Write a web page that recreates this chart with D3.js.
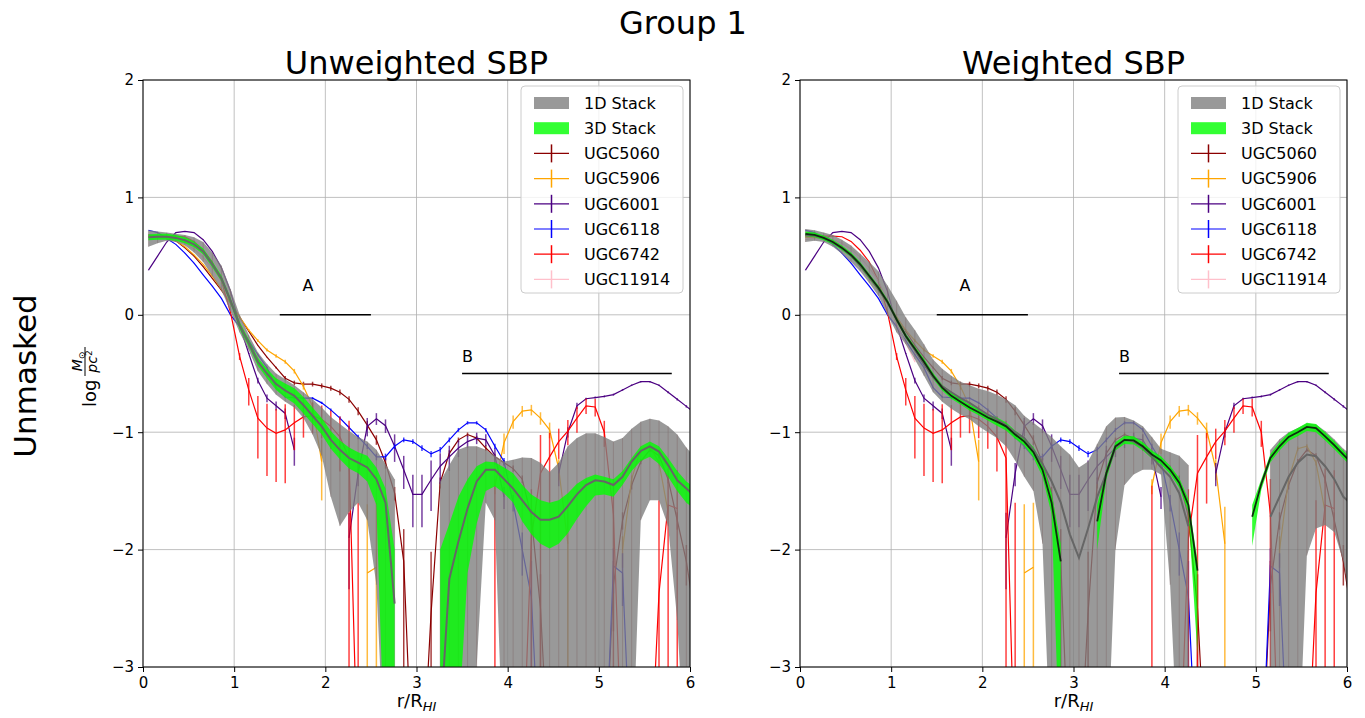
<!DOCTYPE html>
<html>
<head>
<meta charset="utf-8">
<script src="https://cdn.jsdelivr.net/npm/d3@7"></script>
<style>
  body { margin: 0; background: #fff; }
  text { font-family: "DejaVu Sans", sans-serif; }
</style>
</head>
<body>
<div id="canvas"></div>
<script>
"use strict";

const n = null;

// sampling radii r/R_HI (every 0.1 starting at 0.06)
const radii = d3.range(61).map(k => +(0.06 + 0.1 * k).toFixed(2));

// ---- galaxies: log surface density and linear 1-sigma errors ----
const galaxyNames = ["UGC5060", "UGC5906", "UGC6001", "UGC6118", "UGC6742", "UGC11914"];
const galaxyColors = ["darkred", "orange", "indigo", "blue", "red", "pink"];

const ugc5060 = [
  0.68, 0.67, 0.66, 0.63, 0.57, 0.50, 0.41, 0.31, 0.21, 0.10,
  -0.02, -0.14, -0.26, -0.36, -0.45, -0.54, -0.58, -0.59, -0.59, -0.605,
  -0.625, -0.66, -0.72, -0.82, -0.94, -1.065, -1.26, -1.52, -2.1, -4,
  -4, -2.54, -1.43, -1.18, -1.065, -1.02, -1.05, -1.135, -1.21, -1.26,
  -1.31, -1.4, -1.72, -2.5, -4, n, n, n, n, n,
  -4, -2.3, -1.75, -1.45, -1.25, -1.15, -1.2, -1.4, -1.75, -2.1,
  -2.6];
const ugc5060Err = [
  0.003, 0.003, 0.003, 0.003, 0.003, 0.003, 0.003, 0.003, 0.003, 0.003,
  0.003, 0.003, 0.003, 0.003, 0.006, 0.012, 0.012, 0.012, 0.012, 0.012,
  0.012, 0.012, 0.012, 0.012, 0.01, 0.008, 0.006, 0.004, 0.007, 0,
  0, 0.0067, 0.004, 0.004, 0.004, 0.004, 0.004, 0.004, 0.004, 0.003,
  0.003, 0.003, 0.003, 0.003, 0, 0, 0, 0, 0, 0,
  0, 0.003, 0.003, 0.003, 0.003, 0.003, 0.003, 0.003, 0.003, 0.003,
  0.003];

const ugc5906 = [
  0.66, 0.66, 0.65, 0.63, 0.58, 0.51, 0.43, 0.33, 0.22, 0.10,
  -0.02, -0.13, -0.22, -0.30, -0.35, -0.40, -0.48, -0.61, -0.78, -1.25,
  n, n, n, n, -2.2, -2.15, n, n, n, n,
  n, n, n, n, n, n, n, n, -1.46, -1.09,
  -0.91, -0.82, -0.81, -0.88, -0.98, -1.31, -1.95, n, n, n,
  n, n, -2.0, -1.4, -1.14, -1.12, -1.26, -1.68, n, n,
  n];
const ugc5906Err = [
  0.004, 0.004, 0.004, 0.004, 0.004, 0.004, 0.004, 0.004, 0.004, 0.004,
  0.015, 0.015, 0.015, 0.015, 0.015, 0.015, 0.015, 0.015, 0.015, 0.03,
  0, 0, 0, 0, 0.018, 0.018, 0, 0, 0, 0,
  0, 0, 0, 0, 0, 0, 0, 0, 0.005, 0.016,
  0.016, 0.016, 0.016, 0.016, 0.016, 0.01, 0.012, 0, 0, 0,
  0, 0, 0.003, 0.003, 0.003, 0.003, 0.003, 0.003, 0, 0,
  0];

const ugc6001 = [
  0.38, 0.50, 0.62, 0.70, 0.71, 0.70, 0.64, 0.54, 0.40, 0.20,
  -0.09, -0.33, -0.56, -0.71, -0.775, -0.84, -1.15, n, n, n,
  n, n, -1.9, -1.35, -0.95, -0.885, -0.945, -1.12, -1.32, -1.53,
  -1.53, -1.405, -1.29, -1.21, -1.135, -1.08, -1.05, -1.065, -1.2, -1.55,
  n, n, n, n, n, -1.35, -1.0, -0.775, -0.715, -0.705,
  -0.695, -0.68, -0.64, -0.60, -0.57, -0.57, -0.60, -0.66, -0.72, -0.78,
  -0.84];
const ugc6001Err = [
  0.004, 0.004, 0.004, 0.004, 0.004, 0.004, 0.004, 0.004, 0.004, 0.004,
  0.004, 0.004, 0.015, 0.015, 0.015, 0.015, 0.019, 0, 0, 0,
  0, 0, 0.008, 0.01, 0.02, 0.015, 0.015, 0.02, 0.015, 0.014,
  0.014, 0.018, 0.015, 0.015, 0.012, 0.01, 0.01, 0.01, 0.01, 0.006,
  0, 0, 0, 0, 0, 0.01, 0.01, 0.01, 0.004, 0.004,
  0.004, 0.004, 0.004, 0.004, 0.004, 0.004, 0.004, 0.004, 0.004, 0.004,
  0.004];

const ugc6118 = [
  0.72, 0.70, 0.65, 0.60, 0.525, 0.44, 0.34, 0.245, 0.14, 0.0,
  -0.1, -0.22, -0.34, -0.45, -0.62, -0.70, -0.705, -0.71, -0.71, -0.75,
  -0.81, -0.88, -0.96, -1.04, -1.12, -1.21, -1.21, -1.12, -1.065, -1.08,
  -1.135, -1.185, -1.15, -1.065, -0.98, -0.92, -0.92, -0.98, -1.12, -1.25,
  -1.6, -2.0, -2.4, -4, n, n, n, n, n, n,
  -4, -2.14, -2.2, -4, n, n, n, n, n, n,
  n];
const ugc6118Err = [
  0.003, 0.003, 0.003, 0.003, 0.003, 0.003, 0.003, 0.003, 0.003, 0.003,
  0.003, 0.003, 0.003, 0.003, 0.003, 0.003, 0.004, 0.004, 0.004, 0.004,
  0.004, 0.004, 0.004, 0.004, 0.004, 0.004, 0.004, 0.004, 0.004, 0.004,
  0.004, 0.004, 0.004, 0.004, 0.004, 0.004, 0.004, 0.004, 0.004, 0.004,
  0.004, 0.004, 0.004, 0, 0, 0, 0, 0, 0, 0,
  0, 0.003, 0.003, 0, 0, 0, 0, 0, 0, 0,
  0];

const ugc6742 = [
  0.67, 0.67, 0.67, 0.67, 0.665, 0.625, 0.55, 0.45, 0.29, 0.02,
  -0.355, -0.64, -0.88, -0.965, -1.01, -0.98, -0.92, -0.87, -0.86, -0.89,
  -0.95, -1.04, -1.22, -4, n, n, n, n, n, n,
  n, n, n, n, n, n, n, n, -2.3, n,
  n, -4, -1.9, -1.35, -1.21, -1.08, -0.99, -0.88, -0.775, -0.785,
  -1.0, -1.7, -4, n, n, -4, -2.37, -1.62, -1.65, n,
  n];
const ugc6742Err = [
  0.005, 0.005, 0.005, 0.005, 0.005, 0.005, 0.005, 0.005, 0.005, 0.005,
  0.03, 0.06, 0.072, 0.066, 0.06, 0.068, 0.05, 0.045, 0.04, 0.04,
  0.04, 0.045, 0.065, 0.025, 0, 0, 0, 0, 0, 0,
  0, 0, 0, 0, 0, 0, 0, 0, 0.03, 0,
  0, 0, 0.02, 0.05, 0.037, 0.024, 0.025, 0.033, 0.025, 0.028,
  0.025, 0.02, 0, 0, 0, 0, 0.022, 0.025, 0.025, 0,
  0];

const ugc11914 = [
  0.64, 0.65, 0.65, 0.64, 0.61, 0.56, 0.49, 0.40, 0.29, 0.12,
  -0.08, -0.24, -0.40, n, n, n, n, n, n, n,
  n, n, n, n, n, n, n, n, n, n,
  n, n, n, n, n, n, n, n, n, n,
  n, n, n, n, n, n, n, n, n, n,
  n, n, n, n, n, n, n, n, n, n,
  n];
const ugc11914Err = radii.map(() => 0.004);

const galaxyValues = [ugc5060, ugc5906, ugc6001, ugc6118, ugc6742, ugc11914];
const galaxyErrors = [ugc5060Err, ugc5906Err, ugc6001Err, ugc6118Err, ugc6742Err, ugc11914Err];

// ---- Unweighted stacks (left) ----
const unw1DCenter = [
  0.66, 0.665, 0.665, 0.655, 0.635, 0.60, 0.54, 0.43, 0.31, 0.12,
  -0.09, -0.24, -0.40, -0.50, -0.59, -0.645, -0.69, -0.77, -0.86, -0.95,
  -1.065, -1.15, -1.22, -1.26, -1.30, -1.40, -1.60, -2.46, n, n,
  n, n, -3.5, -2.25, -1.93, -1.65, -1.42, -1.32, -1.32, -1.40,
  -1.48, -1.58, -1.68, -1.745, -1.745, -1.72, -1.63, -1.53, -1.45, -1.41,
  -1.42, -1.45, -1.38, -1.25, -1.16, -1.12, -1.165, -1.28, -1.41, -1.48,
  -1.55];
const unw1DHigh = [
  0.72, 0.71, 0.70, 0.69, 0.68, 0.66, 0.62, 0.53, 0.42, 0.22,
  0.0, -0.17, -0.32, -0.42, -0.50, -0.55, -0.60, -0.66, -0.72, -0.79,
  -0.87, -0.93, -0.99, -1.04, -1.08, -1.15, -1.27, -1.40, n, n,
  n, n, -1.42, -1.28, -1.15, -1.12, -1.12, -1.15, -1.20, -1.25,
  -1.235, -1.215, -1.22, -1.26, -1.34, -1.26, -1.12, -1.05, -1.01, -1.01,
  -1.04, -1.08, -1.05, -0.97, -0.91, -0.885, -0.90, -0.95, -1.02, -1.13,
  -1.22];
const unw1DLow = [
  0.58, 0.61, 0.63, 0.62, 0.59, 0.53, 0.45, 0.33, 0.21, 0.03,
  -0.15, -0.30, -0.48, -0.59, -0.68, -0.74, -0.79, -0.88, -1.02, -1.20,
  -1.55, -1.8, -1.68, -1.60, -1.75, -2.3, -4, -4, n, n,
  n, n, -4, -4, -4, -4, -3.0, -1.6, -1.75, -4,
  -4, -4, -4, -4, -4, -4, -4, -4, -4, -4,
  -4, -4, -4, -4, -1.75, -1.58, -1.58, -1.8, -2.6, -4,
  -4];
const unw3DHigh = [
  0.685, 0.69, 0.69, 0.68, 0.66, 0.625, 0.565, 0.455, 0.335, 0.145,
  -0.06, -0.21, -0.365, -0.46, -0.54, -0.585, -0.625, -0.70, -0.79, -0.88,
  -0.99, -1.07, -1.13, -1.17, -1.20, -1.30, -1.48, -2.0, n, n,
  n, n, -2.0, -1.78, -1.55, -1.40, -1.29, -1.25, -1.255, -1.30,
  -1.35, -1.45, -1.53, -1.58, -1.60, -1.58, -1.52, -1.44, -1.39, -1.36,
  -1.38, -1.40, -1.33, -1.22, -1.12, -1.08, -1.12, -1.22, -1.33, -1.42,
  -1.48];
const unw3DLow = [
  0.635, 0.64, 0.64, 0.63, 0.61, 0.575, 0.515, 0.405, 0.285, 0.095,
  -0.12, -0.27, -0.435, -0.54, -0.64, -0.705, -0.755, -0.84, -0.93, -1.02,
  -1.14, -1.23, -1.31, -1.35, -1.42, -1.62, -4, -4, n, n,
  n, n, -4, -4, -3.5, -2.2, -1.78, -1.5, -1.46, -1.52,
  -1.60, -1.76, -1.87, -1.95, -1.99, -1.95, -1.86, -1.74, -1.63, -1.54,
  -1.53, -1.55, -1.45, -1.33, -1.245, -1.21, -1.27, -1.38, -1.50, -1.60,
  -1.66];

// ---- Weighted stacks (right) ----
const wgt1DCenter = [
  0.68, 0.675, 0.655, 0.62, 0.57, 0.505, 0.425, 0.33, 0.225, 0.105,
  -0.04, -0.18, -0.30, -0.42, -0.53, -0.61, -0.66, -0.71, -0.75, -0.80,
  -0.85, -0.89, -0.94, -1.0, -1.05, -1.15, -1.27, -1.42, -1.60, -1.87,
  -2.07, -1.82, -1.55, -1.35, -1.13, -1.065, -1.08, -1.13, -1.21, -1.30,
  -1.38, -1.52, -1.80, n, n, n, n, n, n, n,
  n, -1.72, -1.55, -1.38, -1.26, -1.19, -1.205, -1.29, -1.40, -1.55,
  -1.62];
const wgt1DHigh = [
  0.73, 0.72, 0.70, 0.68, 0.64, 0.59, 0.52, 0.45, 0.37, 0.25,
  0.12, -0.02, -0.13, -0.25, -0.38, -0.46, -0.52, -0.57, -0.60, -0.63,
  -0.65, -0.68, -0.72, -0.77, -0.86, -0.92, -0.98, -1.04, -1.12, -1.19,
  -1.30, -1.25, -1.10, -0.95, -0.875, -0.87, -0.90, -0.95, -1.04, -1.14,
  -1.17, -1.20, -1.28, n, n, n, n, n, n, n,
  n, -1.15, -1.06, -1.0, -0.965, -0.925, -0.935, -0.99, -1.06, -1.14,
  -1.2];
const wgt1DLow = [
  0.62, 0.63, 0.62, 0.58, 0.52, 0.45, 0.37, 0.27, 0.16, 0.0,
  -0.15, -0.25, -0.38, -0.52, -0.66, -0.74, -0.80, -0.85, -0.89, -0.95,
  -1.0, -1.05, -1.12, -1.24, -1.38, -1.5, -1.95, -4, -4, -4,
  -4, -4, -4, -4, -2.0, -1.45, -1.36, -1.32, -1.32, -1.36,
  -2.3, -4, -4, n, n, n, n, n, n, n,
  n, -4, -4, -4, -4, -2.05, -1.82, -1.79, -1.85, -2.1,
  -2.6];
const wgt3DCenter = [
  0.69, 0.68, 0.655, 0.62, 0.57, 0.51, 0.43, 0.33, 0.23, 0.11,
  -0.04, -0.18, -0.29, -0.40, -0.52, -0.62, -0.69, -0.74, -0.79, -0.83,
  -0.875, -0.91, -0.95, -1.02, -1.08, -1.17, -1.32, -1.60, -2.1, n,
  n, n, -1.76, -1.35, -1.12, -1.065, -1.07, -1.12, -1.19, -1.24,
  -1.32, -1.43, -1.62, -2.18, n, n, n, n, n, -1.72,
  -1.44, -1.22, -1.12, -1.04, -1.0, -0.955, -0.965, -1.035, -1.11, -1.19,
  -1.27];
const wgt3DHigh = [
  0.71, 0.70, 0.675, 0.64, 0.59, 0.53, 0.45, 0.35, 0.25, 0.13,
  -0.02, -0.16, -0.27, -0.375, -0.495, -0.595, -0.665, -0.715, -0.765, -0.805,
  -0.85, -0.875, -0.915, -0.985, -1.045, -1.125, -1.26, -1.52, -1.95, n,
  n, n, -1.62, -1.31, -1.085, -1.03, -1.035, -1.085, -1.155, -1.205,
  -1.285, -1.39, -1.57, -2.1, n, n, n, n, n, -1.62,
  -1.40, -1.185, -1.085, -1.005, -0.965, -0.92, -0.93, -1.0, -1.075, -1.155,
  -1.235];
const wgt3DLow = [
  0.67, 0.66, 0.635, 0.60, 0.55, 0.49, 0.41, 0.31, 0.21, 0.09,
  -0.06, -0.20, -0.31, -0.425, -0.545, -0.645, -0.715, -0.765, -0.815, -0.855,
  -0.90, -0.945, -0.985, -1.055, -1.115, -1.215, -1.38, -1.70, -4, n,
  n, n, -2.0, -1.40, -1.155, -1.10, -1.105, -1.155, -1.225, -1.275,
  -1.355, -1.47, -1.68, -2.9, n, n, n, n, n, -1.97,
  -1.49, -1.255, -1.155, -1.075, -1.035, -0.99, -1.0, -1.07, -1.145, -1.225,
  -1.305];

// ---- axes ticks & legend labels ----
const xTicks = [0, 1, 2, 3, 4, 5, 6];
const yTicks = [-3, -2, -1, 0, 1, 2];
const stackLabels = ["1D Stack", "3D Stack"];

// ---- layout ----
let width = 1365;
let height = 718;
let plotTop = 80, plotBottom = 667, plotW = 547;

let svg = d3.select("#canvas")
  .append("svg")
  .attr("width", width)
  .attr("height", height);

let yScale = d3.scaleLinear().domain([-3, 2]).range([plotBottom, plotTop]);

let panels = [
  { id: "unw", left: 143, title: "Unweighted SBP",
    c1: unw1DCenter, h1: unw1DHigh, l1: unw1DLow, c3: null, h3: unw3DHigh, l3: unw3DLow },
  { id: "wgt", left: 800, title: "Weighted SBP",
    c1: wgt1DCenter, h1: wgt1DHigh, l1: wgt1DLow, c3: wgt3DCenter, h3: wgt3DHigh, l3: wgt3DLow }
];

function errEnds(v, e) {
  let lin = Math.pow(10, v);
  let hi = Math.log10(lin + e);
  let lo = lin - e > 0 ? Math.log10(lin - e) : -10;
  return [lo, hi];
}

function drawPanel(p) {
  let xScale = d3.scaleLinear().domain([0, 6]).range([p.left, p.left + plotW]);
  let g = svg.append("g");

  svg.append("clipPath").attr("id", "clip-" + p.id)
    .append("rect")
    .attr("x", p.left).attr("y", plotTop)
    .attr("width", plotW).attr("height", plotBottom - plotTop);

  // grid
  g.selectAll(".vg").data(xTicks).enter().append("line")
    .attr("x1", d => xScale(d)).attr("x2", d => xScale(d))
    .attr("y1", plotTop).attr("y2", plotBottom)
    .attr("stroke", "#b0b0b0").attr("stroke-width", 0.8);
  g.selectAll(".hg").data(yTicks).enter().append("line")
    .attr("x1", p.left).attr("x2", p.left + plotW)
    .attr("y1", d => yScale(d)).attr("y2", d => yScale(d))
    .attr("stroke", "#b0b0b0").attr("stroke-width", 0.8);

  let body = g.append("g").attr("clip-path", `url(#clip-${p.id})`);

  // galaxies
  galaxyValues.forEach((vals, gi) => {
    let pts = radii.map((r, i) => ({ r: r, v: vals[i], e: galaxyErrors[gi][i] }));
    let col = galaxyColors[gi];
    body.append("g").selectAll("line")
      .data(pts.filter(d => d.v !== null && d.e > 0))
      .enter().append("line")
      .attr("x1", d => xScale(d.r)).attr("x2", d => xScale(d.r))
      .attr("y1", d => yScale(errEnds(d.v, d.e)[1]))
      .attr("y2", d => yScale(errEnds(d.v, d.e)[0]))
      .attr("stroke", col).attr("stroke-width", 1.5).attr("opacity", 0.75);
    body.append("path").datum(pts)
      .attr("d", d3.line().defined(d => d.v !== null).x(d => xScale(d.r)).y(d => yScale(d.v)))
      .attr("fill", "none").attr("stroke", col).attr("stroke-width", 1.2);
  });

  // 1D stack band
  let band1 = radii.map((r, i) => ({ r: r, hi: p.h1[i], lo: p.l1[i] }));
  body.append("path").datum(band1)
    .attr("d", d3.area().defined(d => d.hi !== null)
      .x(d => xScale(d.r)).y0(d => yScale(d.lo)).y1(d => yScale(d.hi)))
    .attr("fill", "#808080").attr("fill-opacity", 0.8);
  body.append("g").selectAll("line")
    .data(band1.filter(d => d.hi !== null))
    .enter().append("line")
    .attr("x1", d => xScale(d.r)).attr("x2", d => xScale(d.r))
    .attr("y1", d => yScale(d.hi)).attr("y2", d => yScale(d.lo))
    .attr("stroke", "#7d6464").attr("stroke-width", 1).attr("opacity", 0.4);

  // 3D stack band
  let band3 = radii.map((r, i) => ({ r: r, hi: p.h3[i], lo: p.l3[i] }));
  body.append("path").datum(band3)
    .attr("d", d3.area().defined(d => d.hi !== null)
      .x(d => xScale(d.r)).y0(d => yScale(d.lo)).y1(d => yScale(d.hi)))
    .attr("fill", "lime").attr("fill-opacity", 0.8);

  // centre lines
  body.append("path").datum(radii.map((r, i) => ({ r: r, v: p.c1[i] })))
    .attr("d", d3.line().defined(d => d.v !== null).x(d => xScale(d.r)).y(d => yScale(d.v)))
    .attr("fill", "none").attr("stroke", "#666666").attr("stroke-width", 2);
  if (p.c3) {
    body.append("path").datum(radii.map((r, i) => ({ r: r, v: p.c3[i] })))
      .attr("d", d3.line().defined(d => d.v !== null).x(d => xScale(d.r)).y(d => yScale(d.v)))
      .attr("fill", "none").attr("stroke", "#0f2a0f").attr("stroke-width", 1.8);
  }

  // regions A and B
  g.append("line")
    .attr("x1", xScale(1.5)).attr("x2", xScale(2.5))
    .attr("y1", yScale(0)).attr("y2", yScale(0))
    .attr("stroke", "black").attr("stroke-width", 1.5);
  g.append("text").attr("x", xScale(1.75)).attr("y", yScale(0.2))
    .style("font-size", "16px").text("A");
  g.append("line")
    .attr("x1", xScale(3.5)).attr("x2", xScale(5.8))
    .attr("y1", yScale(-0.5)).attr("y2", yScale(-0.5))
    .attr("stroke", "black").attr("stroke-width", 1.5);
  g.append("text").attr("x", xScale(3.5)).attr("y", yScale(-0.4))
    .style("font-size", "16px").text("B");

  // axes
  let xAxis = svg.append("g")
    .attr("transform", `translate(0, ${plotBottom})`)
    .call(d3.axisBottom(xScale).tickValues(xTicks).tickSize(5).tickPadding(5).tickFormat(d3.format("d")));
  let yAxis = svg.append("g")
    .attr("transform", `translate(${p.left}, 0)`)
    .call(d3.axisLeft(yScale).tickValues(yTicks).tickSize(5).tickPadding(4).tickFormat(d3.format("d")));
  [xAxis, yAxis].forEach(a => {
    a.select(".domain").remove();
    a.selectAll("text").style("font-size", "15px").style("font-family", "DejaVu Sans").attr("fill", "black");
    a.selectAll("line").attr("stroke", "black");
  });
  svg.append("rect")
    .attr("x", p.left).attr("y", plotTop)
    .attr("width", plotW).attr("height", plotBottom - plotTop)
    .attr("fill", "none").attr("stroke", "black").attr("stroke-width", 1);

  // titles
  svg.append("text").attr("x", p.left + plotW / 2).attr("y", 74)
    .attr("text-anchor", "middle").style("font-size", "32px").text(p.title);
  let xl = svg.append("text").attr("x", p.left + plotW / 2).attr("y", 707)
    .attr("text-anchor", "middle").style("font-size", "18px");
  xl.append("tspan").text("r/R");
  xl.append("tspan").attr("dy", 4).style("font-size", "13px").style("font-style", "italic").text("HI");

  // legend
  let lx = p.left + 378;
  let lg = svg.append("g");
  lg.append("rect").attr("x", lx).attr("y", 86).attr("width", 162).attr("height", 207)
    .attr("rx", 4).attr("fill", "white").attr("fill-opacity", 0.8)
    .attr("stroke", "#cccccc").attr("stroke-width", 1);
  let rowY = i => 103 + 25.2 * i;
  lg.append("rect").attr("x", lx + 13).attr("y", rowY(0) - 6).attr("width", 35).attr("height", 12)
    .attr("fill", "#808080").attr("fill-opacity", 0.8);
  lg.append("rect").attr("x", lx + 13).attr("y", rowY(1) - 6).attr("width", 35).attr("height", 12)
    .attr("fill", "lime").attr("fill-opacity", 0.8);
  stackLabels.forEach((s, i) => {
    lg.append("text").attr("x", lx + 63).attr("y", rowY(i)).attr("dy", "0.36em")
      .style("font-size", "16px").text(s);
  });
  galaxyNames.forEach((name, i) => {
    let y = rowY(i + 2);
    lg.append("line").attr("x1", lx + 13).attr("x2", lx + 48).attr("y1", y).attr("y2", y)
      .attr("stroke", galaxyColors[i]).attr("stroke-width", 1.2);
    lg.append("line").attr("x1", lx + 30.5).attr("x2", lx + 30.5).attr("y1", y - 9).attr("y2", y + 9)
      .attr("stroke", galaxyColors[i]).attr("stroke-width", 1.5);
    lg.append("text").attr("x", lx + 63).attr("y", y).attr("dy", "0.36em")
      .style("font-size", "16px").text(name);
  });
}

panels.forEach(drawPanel);

// figure title and row label
svg.append("text").attr("x", 683).attr("y", 34).attr("text-anchor", "middle")
  .style("font-size", "32px").text("Group 1");

svg.append("text")
  .attr("transform", "translate(25, 376) rotate(-90)")
  .attr("text-anchor", "middle").attr("dominant-baseline", "central")
  .style("font-size", "31px").text("Unmasked");

// y label: log M_sun / pc^2
let yl = svg.append("g").attr("transform", "translate(87, 375) rotate(-90)");
yl.append("text").attr("x", -32).attr("y", 9).style("font-size", "18px").text("log");
yl.append("line").attr("x1", -1).attr("x2", 28).attr("y1", -2).attr("y2", -2)
  .attr("stroke", "black").attr("stroke-width", 1);
let num = yl.append("text").attr("x", 13.5).attr("y", -5).attr("text-anchor", "middle").style("font-size", "14px");
num.append("tspan").style("font-style", "italic").text("M");
num.append("tspan").attr("dy", 3).style("font-size", "9px").text("⊙");
let den = yl.append("text").attr("x", 13.5).attr("y", 10).attr("text-anchor", "middle").style("font-size", "14px");
den.append("tspan").style("font-style", "italic").text("pc");
den.append("tspan").attr("dy", -5).style("font-size", "9px").text("2");
</script>
</body>
</html>
